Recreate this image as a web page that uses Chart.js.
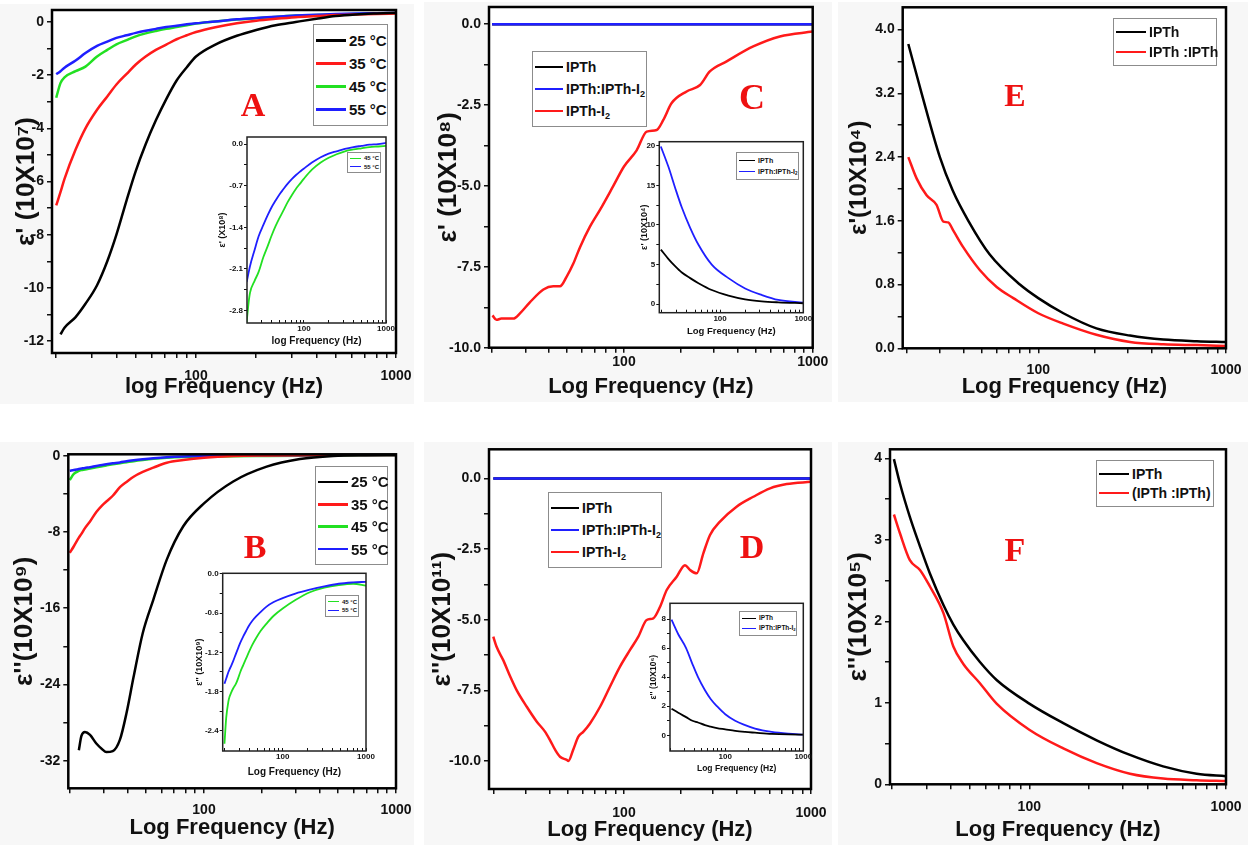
<!DOCTYPE html>
<html>
<head>
<meta charset="utf-8">
<script src="https://cdn.jsdelivr.net/npm/chart.js@4.4.1/dist/chart.umd.min.js"></script>
<style>
  html, body { margin: 0; padding: 0; background: #fff; }
  #wadah { position: relative; width: 1248px; height: 845px; overflow: hidden; font-family: 'Liberation Sans', Arial, sans-serif; }
  .kotak { position: absolute; }
  .legenda { position: absolute; box-sizing: border-box; border: 1px solid #8c8c8c; background: #fff;
    display: flex; flex-direction: column; justify-content: space-evenly; padding-left: 2px;
    font-weight: bold; color: #111; line-height: 1; }
  .baris { display: flex; align-items: center; white-space: nowrap; }
  .garis { display: inline-block; margin-right: 3px; flex: none; }
  .legenda sub { font-size: 0.65em; vertical-align: -0.3em; line-height: 0; }
  .huruf { position: absolute; transform: translate(-50%, -50%); font-family: 'Liberation Serif', 'Times New Roman', serif;
    font-weight: bold; color: #ee1111; line-height: 1; }
</style>
</head>
<body>
<div id="wadah"></div>
<script>
// tick sumbu x (log), cuma 100 sama 1000 yang dikasih label
const tickX = [20, 30, 40, 50, 60, 70, 80, 90, 100, 200, 300, 400, 500, 600, 700, 800, 900, 1000];

// panel A : epsilon' vs frekuensi, 4 suhu
const frekA = [20, 21, 22, 25, 28, 32, 36, 40, 45, 50, 56, 63, 71, 80, 90, 100, 125, 160, 200, 250, 315, 400, 500, 630, 800, 1000];
const a25 = [null, -11.75, -11.5, -11.1, -10.6, -9.9, -9.0, -8.0, -6.7, -5.6, -4.6, -3.7, -2.9, -2.2, -1.7, -1.3, -0.85, -0.52, -0.3, -0.12, 0.0, 0.12, 0.22, 0.28, 0.32, 0.35];
const a35 = [-6.9, -6.4, -5.9, -4.8, -4.0, -3.3, -2.8, -2.35, -1.95, -1.6, -1.3, -1.05, -0.85, -0.65, -0.5, -0.38, -0.2, -0.05, 0.05, 0.12, 0.18, 0.22, 0.26, 0.28, 0.3, 0.32];
const a45 = [-2.85, -2.3, -2.08, -1.85, -1.68, -1.3, -1.05, -0.84, -0.68, -0.54, -0.43, -0.34, -0.26, -0.19, -0.12, -0.06, 0.02, 0.09, 0.14, 0.19, 0.24, 0.26, 0.28, 0.3, 0.31, 0.32];
const a55 = [-1.97, -1.85, -1.72, -1.45, -1.17, -0.9, -0.74, -0.6, -0.5, -0.41, -0.33, -0.26, -0.19, -0.14, -0.09, -0.05, 0.02, 0.1, 0.15, 0.2, 0.24, 0.27, 0.3, 0.32, 0.33, 0.34];
// inset A
const ia45 = [-3.0, -2.7, -2.5, -2.3, -2.15, -1.9, -1.72, -1.55, -1.38, -1.25, -1.12, -0.98, -0.86, -0.75, -0.66, -0.58, -0.43, -0.31, -0.23, -0.17, -0.12, -0.09, -0.07, -0.05, -0.04, -0.03];
const ia55 = [-2.32, -2.18, -2.05, -1.78, -1.55, -1.36, -1.2, -1.07, -0.95, -0.85, -0.76, -0.67, -0.59, -0.52, -0.46, -0.41, -0.31, -0.22, -0.16, -0.12, -0.08, -0.05, -0.03, -0.01, 0.0, 0.02];

// panel B : epsilon'' vs frekuensi
const frekB = [20, 21, 22.3, 23, 24, 25.5, 27.5, 29.5, 31, 33.5, 36.5, 39.5, 43, 48, 54.5, 64, 78, 100, 142, 212, 316, 471, 700, 1000];
const b25 = [null, null, -30.9, -29.4, -29.0, -29.3, -30.2, -30.8, -31.1, -31.0, -29.8, -27.0, -23.2, -18.6, -15.1, -10.9, -7.4, -5.0, -2.7, -1.15, -0.35, -0.03, 0.05, 0.07];
const b35 = [-10.2, -9.5, -8.6, -8.2, -7.6, -6.9, -5.9, -5.2, -4.8, -4.2, -3.3, -2.75, -2.2, -1.7, -1.25, -0.73, -0.45, -0.21, -0.03, 0.03, 0.06, 0.07, 0.07, 0.07];
const b45 = [-2.55, -1.9, -1.6, -1.5, -1.45, -1.35, -1.22, -1.1, -1.02, -0.9, -0.78, -0.68, -0.57, -0.45, -0.33, -0.22, -0.14, -0.1, -0.06, -0.03, 0.0, 0.03, 0.05, 0.05];
const b55 = [-1.57, -1.5, -1.4, -1.35, -1.28, -1.2, -1.07, -0.97, -0.9, -0.8, -0.7, -0.58, -0.48, -0.37, -0.26, -0.15, -0.07, -0.03, 0.02, 0.04, 0.05, 0.06, 0.07, 0.07];
// inset B
const ib45 = [-2.6, -2.2, -1.95, -1.88, -1.82, -1.75, -1.68, -1.58, -1.5, -1.4, -1.29, -1.19, -1.09, -0.98, -0.87, -0.76, -0.64, -0.53, -0.4, -0.28, -0.21, -0.17, -0.15, -0.18];
const ib55 = [-1.68, -1.6, -1.5, -1.46, -1.41, -1.33, -1.22, -1.12, -1.05, -0.96, -0.87, -0.79, -0.72, -0.65, -0.58, -0.5, -0.43, -0.37, -0.3, -0.24, -0.19, -0.15, -0.13, -0.12];

// panel C
const frekDatar = [20, 1000];
const nolIPTh = [0, 0];
const nolCampur = [0, 0];
const frekC = [20.1, 21.1, 22.4, 25.9, 28.1, 31.7, 37.4, 42.2, 45.8, 49.7, 53.9, 58.4, 66, 74.6, 87.8, 100, 116.7, 131.9, 149, 161.6, 178.9, 214.8, 253, 285, 350, 484, 670, 1000];
const cIodin = [-9.0, -9.14, -9.1, -9.1, -8.94, -8.6, -8.2, -8.1, -8.1, -7.8, -7.4, -6.9, -6.26, -5.74, -5.0, -4.4, -3.9, -3.32, -3.27, -2.96, -2.44, -2.08, -1.88, -1.46, -1.15, -0.69, -0.38, -0.23];
// inset C
const frekIC = [19.4, 24, 28.8, 34.7, 43.7, 55, 79.4, 126, 200, 316, 500, 1000];
const icIPTh = [6.9, 5.7, 4.8, 4.0, 3.3, 2.66, 1.8, 1.1, 0.63, 0.38, 0.25, 0.13];
const icCampur = [19.9, 17.3, 14.7, 12.2, 9.64, 7.5, 5.0, 3.3, 2.0, 1.18, 0.55, 0.2];

// panel D
const frekD = [20, 20.8, 22.6, 24.6, 26.7, 30.2, 34.1, 37.8, 40.2, 42.8, 45.5, 49.4, 50.4, 53.5, 57, 60.7, 65.8, 74.5, 84.1, 95.2, 107.7, 119.3, 132.2, 143.5, 155.9, 169.2, 191.3, 211.9, 225.5, 244.7, 265.6, 288.4, 326, 400, 491.6, 604, 741.6, 1000];
const dIodin = [-5.6, -5.95, -6.43, -7.0, -7.5, -8.08, -8.6, -8.96, -9.26, -9.6, -9.85, -9.96, -10.0, -9.6, -9.14, -8.96, -8.67, -8.08, -7.37, -6.66, -6.07, -5.6, -5.01, -4.95, -4.54, -3.95, -3.48, -3.07, -3.24, -3.36, -2.65, -2.0, -1.53, -1.0, -0.65, -0.35, -0.2, -0.12];
// inset D
const frekID = [20.5, 25, 31.5, 38, 44.8, 55, 65, 78.3, 100, 134, 180, 241, 394, 643, 1000];
const idIPTh = [1.83, 1.55, 1.25, 1.0, 0.88, 0.7, 0.6, 0.5, 0.41, 0.3, 0.23, 0.18, 0.1, 0.06, 0.05];
const idCampur = [7.95, 6.95, 6.0, 4.9, 4.0, 3.1, 2.5, 2.0, 1.45, 1.0, 0.7, 0.46, 0.23, 0.11, 0.05];

// panel E (hitam sama merah titik frekuensinya beda)
const frekE1 = [20.3, 23.9, 29.9, 35, 42.4, 55, 79.8, 100, 136, 204, 308, 464, 700, 1000];
const eIPTh = [3.82, 3.2, 2.4, 1.98, 1.6, 1.18, 0.8, 0.63, 0.44, 0.25, 0.16, 0.11, 0.09, 0.08];
const frekE2 = [20.3, 22.5, 25.4, 28.7, 31.2, 33.1, 35.2, 39.8, 48.9, 60, 73.6, 100, 135.9, 204, 308, 464, 700, 1000];
const eCampur = [2.4, 2.13, 1.92, 1.8, 1.59, 1.58, 1.48, 1.27, 0.98, 0.77, 0.63, 0.44, 0.31, 0.17, 0.08, 0.05, 0.04, 0.03];

// panel F
const frekF = [20.5, 22, 24.7, 27.8, 31.2, 36.6, 41.1, 46.1, 56.1, 68.2, 100, 148.9, 220, 325, 479, 709, 1000];
const fIPTh = [3.99, 3.69, 3.28, 2.92, 2.59, 2.2, 1.96, 1.77, 1.5, 1.28, 0.99, 0.75, 0.54, 0.36, 0.22, 0.13, 0.1];
const fCampur = [3.31, 3.08, 2.75, 2.63, 2.43, 2.1, 1.69, 1.48, 1.24, 0.99, 0.67, 0.44, 0.26, 0.13, 0.07, 0.05, 0.04];

// tick sumbu y (yang ada labelnya)
const yTickA = [0, -2, -4, -6, -8, -10, -12];
const yTickB = [0, -8, -16, -24, -32];
const yTickC = [0, -2.5, -5, -7.5, -10];
const yTickD = [0, -2.5, -5, -7.5, -10];
const yTickE = [0, 0.8, 1.6, 2.4, 3.2, 4.0];
const yTickF = [0, 1, 2, 3, 4];
const yTickIA = [0, -0.7, -1.4, -2.1, -2.8];
const yTickIB = [0, -0.6, -1.2, -1.8, -2.4];
const yTickIC = [0, 5, 10, 15, 20];
const yTickID = [0, 2, 4, 6, 8];

const hitam = '#000000', merah = '#ff1a1a', hijau = '#22e022', biru = '#1f1fff';
const hurufDasar = "'Liberation Sans', Arial, sans-serif";
const wadah = document.getElementById('wadah');

// plugin kecil: background, area plot putih, bingkai hitam
const bingkai = {
  id: 'bingkai',
  beforeDraw(chart, args, o) {
    const { ctx, chartArea: a } = chart;
    ctx.save();
    if (o.bg) { ctx.fillStyle = o.bg; ctx.fillRect(0, 0, chart.width, chart.height); }
    ctx.fillStyle = '#fff';
    ctx.fillRect(a.left, a.top, a.right - a.left, a.bottom - a.top);
    ctx.restore();
  },
  afterDraw(chart, args, o) {
    const { ctx, chartArea: a } = chart;
    ctx.save();
    ctx.strokeStyle = o.warna || '#000';
    ctx.lineWidth = o.tebal || 2;
    ctx.strokeRect(a.left, a.top, a.right - a.left, a.bottom - a.top);
    ctx.restore();
  }
};

function buatPanel(c) {
  const [bx, by, bw, bh] = c.box;
  const [L, T, R, B] = c.area;
  const kiriSkala = c.judulYx - c.ukJudulY * 0.6;
  const bawahSkala = c.judulXy + c.ukJudulX * 0.6;
  const lebarY = L - kiriSkala;
  const tinggiX = bawahSkala - B;

  const div = document.createElement('div');
  div.className = 'kotak';
  Object.assign(div.style, { left: bx + 'px', top: by + 'px', width: bw + 'px', height: bh + 'px' });
  const cv = document.createElement('canvas');
  cv.width = bw; cv.height = bh;
  div.appendChild(cv);
  wadah.appendChild(div);

  // tick minor di tengah2 tick mayor
  const minor = [];
  for (let i = 0; i < c.yMayor.length - 1; i++) minor.push((c.yMayor[i] + c.yMayor[i + 1]) / 2);
  const semuaY = c.yMayor.concat(minor);

  new Chart(cv, {
    type: 'line',
    data: {
      // dataset pertama digambar paling atas
      datasets: c.seri.map(s => ({
        data: s.x.map((f, i) => ({ x: f, y: s.y[i] })),
        borderColor: s.warna,
        borderWidth: c.tebalGaris,
        pointRadius: 0,
        cubicInterpolationMode: 'monotone',
        fill: false
      }))
    },
    options: {
      responsive: false,
      animation: false,
      layout: { padding: { left: kiriSkala - bx, top: T - by, right: bx + bw - R, bottom: by + bh - bawahSkala } },
      plugins: {
        legend: { display: false },
        tooltip: { enabled: false },
        bingkai: { bg: c.bg, tebal: c.tebalBingkai, warna: c.warnaBingkai }
      },
      scales: {
        x: {
          type: 'logarithmic', min: c.xMin, max: 1000,
          afterBuildTicks: sc => { sc.ticks = tickX.filter(v => v >= sc.min && v <= sc.max).map(v => ({ value: v })); },
          afterFit: sc => { sc.height = tinggiX; sc.paddingLeft = 0; sc.paddingRight = 0; },
          border: { display: false },
          grid: { drawOnChartArea: false, drawTicks: true, tickLength: c.tickX, color: '#111', lineWidth: c.tebalTick },
          ticks: {
            autoSkip: false, maxRotation: 0, minRotation: 0, padding: c.padX, color: '#111',
            font: { family: hurufDasar, size: c.ukTick, weight: 'bold' },
            callback: v => (v === 100 || v === 1000) ? String(v) : ''
          },
          title: { display: true, text: c.judulX, padding: 0, color: '#111',
            font: { family: hurufDasar, size: c.ukJudulX, weight: 'bold' } }
        },
        y: {
          type: 'linear', min: c.yMin, max: c.yMax,
          afterBuildTicks: sc => { sc.ticks = semuaY.map(v => ({ value: v })); },
          afterFit: sc => { sc.width = lebarY; sc.paddingTop = 0; sc.paddingBottom = 0; },
          border: { display: false },
          grid: { drawOnChartArea: false, drawTicks: true, tickLength: c.tickY, color: '#111', lineWidth: c.tebalTick },
          ticks: {
            autoSkip: false, padding: c.padY, color: '#111',
            font: { family: hurufDasar, size: c.ukTick, weight: 'bold' },
            callback: v => c.yMayor.includes(v) ? v.toFixed(c.desimal) : ''
          },
          title: { display: true, text: c.judulY, padding: 0, color: '#111',
            font: { family: hurufDasar, size: c.ukJudulY, weight: 'bold' } }
        }
      }
    },
    plugins: [bingkai]
  });
}

// setelan umum panel besar & inset
const gayaBesar = { ukTick: 14, ukJudulX: 22, ukJudulY: 26, tickX: 5, tickY: 5, padY: 3, tebalTick: 1.5,
  tebalGaris: 2.5, tebalBingkai: 2.5, warnaBingkai: '#000', bg: '#f7f7f7' };
const gayaInset = { ukTick: 8, tickX: -3, tickY: 3, padX: 4, padY: 1, tebalTick: 1,
  tebalGaris: 1.8, tebalBingkai: 1.5, warnaBingkai: '#222', bg: null };

function legenda(kotak, isi, uk, garis) {
  const d = document.createElement('div');
  d.className = 'legenda';
  Object.assign(d.style, { left: kotak[0] + 'px', top: kotak[1] + 'px', width: kotak[2] + 'px', height: kotak[3] + 'px', fontSize: uk + 'px' });
  isi.forEach(it => {
    const b = document.createElement('div');
    b.className = 'baris';
    const g = document.createElement('span');
    g.className = 'garis';
    g.style.width = garis[0] + 'px';
    g.style.height = garis[1] + 'px';
    g.style.background = it[1];
    const t = document.createElement('span');
    t.innerHTML = it[0].replace('₂', '<sub>2</sub>');
    b.append(g, t);
    d.appendChild(b);
  });
  wadah.appendChild(d);
}

function huruf(teks, x, y, uk) {
  const d = document.createElement('div');
  d.className = 'huruf';
  d.textContent = teks;
  Object.assign(d.style, { left: x + 'px', top: y + 'px', fontSize: uk + 'px' });
  wadah.appendChild(d);
}

const suhu = [['25 °C', hitam], ['35 °C', merah], ['45 °C', hijau], ['55 °C', biru]];
const tigaSampel = [['IPTh', hitam], ['IPTh:IPTh-I₂', biru], ['IPTh-I₂', merah]];

// ---- panel A
buatPanel({ ...gayaBesar, box: [0, 4, 414, 400], area: [52, 10, 396, 353], judulYx: 27, judulXy: 387, padX: 10,
  xMin: 19.05, yMin: -12.45, yMax: 0.45, yMayor: yTickA, desimal: 0,
  judulY: "ε' (10X10⁷)", judulX: 'log Frequency (Hz)',
  seri: [{ x: frekA, y: a25, warna: hitam }, { x: frekA, y: a35, warna: merah }, { x: frekA, y: a55, warna: biru }, { x: frekA, y: a45, warna: hijau }] });
buatPanel({ ...gayaInset, box: [205, 128, 195, 225], area: [247, 137, 386, 323], judulYx: 222.7, ukJudulY: 9, judulXy: 341.7, ukJudulX: 10,
  xMin: 20.2, yMin: -3.01, yMax: 0.12, yMayor: yTickIA, desimal: 1,
  judulY: "ε' (X10⁸)", judulX: 'log Frequency (Hz)',
  seri: [{ x: frekA, y: ia55, warna: biru }, { x: frekA, y: ia45, warna: hijau }] });

// ---- panel B
buatPanel({ ...gayaBesar, box: [0, 442, 414, 403], area: [68.3, 454.3, 396, 788.3], judulYx: 25, judulXy: 828.3, padX: 8,
  xMin: 19.65, yMin: -34.9, yMax: 0.15, yMayor: yTickB, desimal: 0,
  judulY: "ε''(10X10⁹)", judulX: 'Log Frequency (Hz)',
  seri: [{ x: frekB, y: b25, warna: hitam }, { x: frekB, y: b35, warna: merah }, { x: frekB, y: b55, warna: biru }, { x: frekB, y: b45, warna: hijau }] });
buatPanel({ ...gayaInset, box: [185, 565, 195, 215], area: [222.7, 573.3, 366, 751], judulYx: 200, ukJudulY: 9, judulXy: 772.3, ukJudulX: 10,
  xMin: 19.05, yMin: -2.71, yMax: 0.01, yMayor: yTickIB, desimal: 1,
  judulY: "ε'' (10X10⁹)", judulX: 'Log Frequency (Hz)',
  seri: [{ x: frekB, y: ib55, warna: biru }, { x: frekB, y: ib45, warna: hijau }] });

// ---- panel C (garis biru di atas garis hitam yang nol)
buatPanel({ ...gayaBesar, box: [424, 2, 408, 400], area: [489, 7, 812.7, 347.7], judulYx: 449, judulXy: 386.7, padX: 1,
  xMin: 19.26, yMin: -10, yMax: 0.53, yMayor: yTickC, desimal: 1,
  judulY: "ε' (10X10⁸)", judulX: 'Log Frequency (Hz)',
  seri: [{ x: frekDatar, y: nolCampur, warna: biru }, { x: frekDatar, y: nolIPTh, warna: hitam }, { x: frekC, y: cIodin, warna: merah }] });
buatPanel({ ...gayaInset, box: [632, 133, 183, 207], area: [659.3, 141.7, 803.3, 312.7], judulYx: 645, ukJudulY: 9, judulXy: 331.7, ukJudulX: 9.5,
  xMin: 18.6, yMin: -1.06, yMax: 20.5, yMayor: yTickIC, desimal: 0,
  judulY: "ε' (10X10⁴)", judulX: 'Log Frequency (Hz)',
  seri: [{ x: frekIC, y: icIPTh, warna: hitam }, { x: frekIC, y: icCampur, warna: biru }] });

// ---- panel D
buatPanel({ ...gayaBesar, box: [424, 442, 408, 403], area: [489, 449.3, 811, 789], judulYx: 443, judulXy: 830, padX: 11,
  xMin: 18.97, yMin: -10.99, yMax: 1.03, yMayor: yTickD, desimal: 1,
  judulY: "ε''(10X10¹¹)", judulX: 'Log Frequency (Hz)',
  seri: [{ x: frekDatar, y: nolCampur, warna: biru }, { x: frekDatar, y: nolIPTh, warna: hitam }, { x: frekD, y: dIodin, warna: merah }] });
buatPanel({ ...gayaInset, box: [638, 595, 180, 182], area: [670, 603.3, 803.3, 751], judulYx: 653.3, ukJudulY: 8.5, judulXy: 768.3, ukJudulX: 8.5,
  xMin: 19.6, yMin: -1.08, yMax: 9.08, yMayor: yTickID, desimal: 0,
  judulY: "ε'' (10X10⁶)", judulX: 'Log Frequency (Hz)',
  seri: [{ x: frekID, y: idIPTh, warna: hitam }, { x: frekID, y: idCampur, warna: biru }] });

// ---- panel E
buatPanel({ ...gayaBesar, ukJudulY: 24, box: [838, 2, 410, 400], area: [902.7, 7.3, 1226, 348.3], judulYx: 859, judulXy: 386.7, padX: 8,
  xMin: 18.95, yMin: 0, yMax: 4.28, yMayor: yTickE, desimal: 1,
  judulY: "ε'(10X10⁴)", judulX: 'Log Frequency (Hz)',
  seri: [{ x: frekE1, y: eIPTh, warna: hitam }, { x: frekE2, y: eCampur, warna: merah }] });

// ---- panel F
buatPanel({ ...gayaBesar, box: [838, 442, 410, 403], area: [890, 449.3, 1226, 784.3], judulYx: 859, judulXy: 830, padX: 9,
  xMin: 19.58, yMin: 0, yMax: 4.11, yMayor: yTickF, desimal: 0,
  judulY: "ε''(10X10⁵)", judulX: 'Log Frequency (Hz)',
  seri: [{ x: frekF, y: fIPTh, warna: hitam }, { x: frekF, y: fCampur, warna: merah }] });

// legenda
legenda([313, 24, 75, 102], suhu, 15, [30, 2.5]);
legenda([315, 466, 73, 99], suhu, 15, [30, 2.5]);
legenda([532, 51, 115, 76], tigaSampel, 14, [28, 2.5]);
legenda([548, 492, 114, 76], tigaSampel, 14, [28, 2.5]);
legenda([1113, 18, 104, 48], [['IPTh', hitam], ['IPTh :IPTh', merah]], 14, [30, 2]);
legenda([1096, 460, 118, 47], [['IPTh', hitam], ['(IPTh :IPTh)', merah]], 14, [30, 2]);
legenda([347, 152, 34, 21], suhu.slice(2), 6, [11, 1.5]);
legenda([325, 595, 34, 22], suhu.slice(2), 6, [11, 1.5]);
legenda([736, 152, 63, 28], tigaSampel.slice(0, 2), 7, [16, 1.5]);
legenda([739, 611, 58, 25], tigaSampel.slice(0, 2), 6.5, [14, 1.5]);

// huruf panel
huruf('A', 253, 105, 34);
huruf('B', 255, 547, 34);
huruf('C', 752, 97, 36);
huruf('D', 752, 547, 34);
huruf('E', 1015, 95, 32);
huruf('F', 1015, 550, 34);
</script>
</body>
</html>
